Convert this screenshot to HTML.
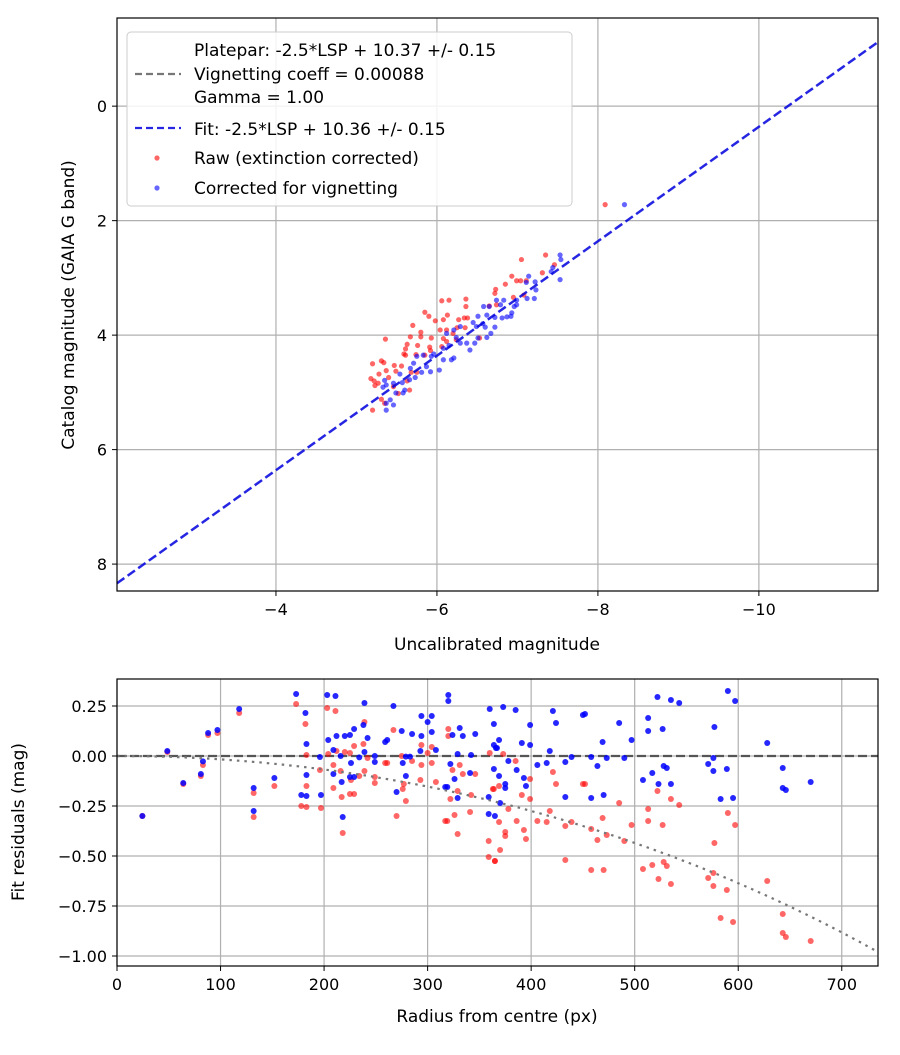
<!DOCTYPE html>
<html><head><meta charset="utf-8"><style>
body{margin:0;background:#fff;font-family:"Liberation Sans","DejaVu Sans",sans-serif;}
svg text{font-family:"DejaVu Sans","Liberation Sans",sans-serif;}
</style></head><body>
<svg id="chart" width="900" height="1050" xmlns="http://www.w3.org/2000/svg">
<rect width="900" height="1050" fill="#fff"/>
<g id="topPlot"></g>
<g id="botPlot"></g>
</svg>
<script>
// ---- top chart data ----
const rawX=[-8.09,-7.05,-7.35,-7.46,-7.31,-6.93,-6.99,-7.04,-7.11,-6.85,-6.73,-6.72,-6.95,-7.08,-6.65,-6.74,-6.06,-6.15,-6.36,-6.36,-5.85,-5.90,-5.70,-5.98,-6.08,-6.13,-6.27,-6.34,-6.38,-6.25,-6.35,-6.04,-6.12,-6.20,-5.36,-5.67,-5.80,-5.80,-5.93,-6.08,-6.12,-6.24,-6.53,-5.63,-5.61,-5.76,-5.91,-6.06,-5.59,-5.61,-5.74,-5.85,-5.92,-5.31,-5.34,-5.20,-5.47,-5.56,-5.49,-5.37,-5.28,-5.18,-5.22,-5.27,-5.23,-5.40,-5.68,-5.75,-5.63,-5.66,-5.31,-5.35,-5.20,-5.46,-5.52];
const rawY=[1.72,2.68,2.60,2.77,2.91,2.97,3.05,3.05,3.05,3.11,3.20,3.27,3.34,3.30,3.49,3.47,3.40,3.39,3.37,3.50,3.60,3.67,3.83,3.75,3.73,3.65,3.73,3.70,3.70,3.87,3.87,3.91,3.91,3.97,4.07,4.03,3.95,4.03,4.05,4.06,4.11,4.08,4.05,4.16,4.24,4.18,4.21,4.20,4.33,4.35,4.34,4.35,4.27,4.45,4.48,4.50,4.53,4.54,4.63,4.62,4.68,4.76,4.80,4.84,4.88,4.74,4.65,4.65,4.80,4.96,5.12,5.19,5.31,4.90,5.02];
const corX=[-8.33,-7.53,-7.54,-7.44,-7.42,-7.53,-7.14,-7.22,-7.11,-7.23,-7.12,-7.21,-6.99,-6.74,-6.83,-6.58,-6.65,-6.79,-6.96,-6.99,-6.51,-6.62,-6.72,-6.81,-6.87,-6.92,-6.93,-6.45,-6.49,-6.57,-6.60,-6.72,-6.67,-6.62,-6.51,-6.47,-6.37,-6.41,-6.29,-6.21,-6.12,-6.24,-6.29,-6.15,-6.08,-6.03,-6.21,-6.18,-6.08,-5.96,-5.93,-5.83,-5.75,-5.71,-5.67,-5.87,-5.92,-5.81,-5.73,-5.66,-5.54,-5.46,-5.37,-5.33,-5.35,-5.57,-5.49,-5.58,-5.42,-5.37,-5.46,-5.37,-5.60];
const corY=[1.72,2.60,2.68,2.82,2.89,3.03,2.97,3.07,3.08,3.21,3.36,3.36,3.39,3.39,3.39,3.50,3.50,3.47,3.50,3.47,3.67,3.65,3.69,3.70,3.68,3.67,3.61,3.78,3.85,3.80,3.86,3.86,3.97,4.04,4.05,4.14,4.14,4.26,3.85,3.91,3.97,4.04,4.14,4.18,4.23,4.61,4.40,4.43,4.43,4.33,4.37,4.35,4.37,4.49,4.58,4.55,4.64,4.65,4.74,4.78,4.68,4.84,4.87,4.91,4.79,4.83,5.01,5.01,5.13,5.19,5.22,5.31,4.96];
const fitZP=10.36;
const topXTicks=[-4,-6,-8,-10];
const topYTicks=[0,2,4,6,8];
// ---- bottom chart data ----
const corR=[24.5,48.6,64,81,83,88,97,118,132,132,152,173,182,183,183,178,183,197,196,203,211,204,212,209,216,209,217,218,220,225,229,238,239,242,239,234,226,225,229,249,249,259,261,267,275,276,279,270,279,283,285,294,294,293,300,304,304,308,320,320,324,322,326,317,319,329,329,331,334,342,341,346,359,359,360,364,364,366,364,365,373,385,369,367,391,399,399,421,424,418,450,452,485,469,497,513,513,522,535,543,527,590,597,577,628,378,386,369,393,375,375,395,406,415,433,439,458,464,473,490,433,458,470,370,508,517,523,528,531,535,571,576,576,589,583,595,643,643,646,670];
const corRes=[-0.30,0.025,-0.135,-0.09,-0.027,0.115,0.13,0.235,-0.16,-0.275,-0.11,0.31,0.215,0.06,-0.095,-0.195,-0.20,-0.195,-0.005,0.305,0.30,0.08,0.10,0.03,0.0,-0.09,-0.13,-0.305,0.10,0.105,0.135,0.155,0.265,0.09,0.02,-0.007,-0.035,-0.105,-0.105,0.0,-0.03,0.07,0.08,0.25,0.125,-0.035,-0.10,-0.18,-0.003,-0.003,0.11,0.20,0.10,0.025,0.17,0.20,0.12,0.03,0.305,0.275,0.105,-0.04,-0.115,-0.155,-0.155,-0.21,0.01,0.14,0.10,0.005,-0.085,0.11,-0.205,-0.29,0.235,0.16,0.055,0.04,-0.065,-0.30,0.245,0.23,0.08,0.04,0.065,0.155,0.055,0.225,0.165,0.025,0.205,0.21,0.165,0.07,0.08,0.19,0.125,0.295,0.28,0.265,0.135,0.325,0.275,0.145,0.065,-0.025,-0.07,-0.10,-0.11,-0.14,-0.16,-0.15,-0.045,-0.035,-0.03,-0.005,-0.005,-0.05,-0.01,-0.01,-0.205,-0.21,-0.195,-0.235,-0.12,-0.085,-0.14,-0.05,-0.06,-0.14,-0.04,-0.01,-0.075,-0.065,-0.215,-0.21,-0.06,-0.16,-0.17,-0.13];
const rawR=[24.5,48.6,64,81,83,88,97,118,132,132,152,173,182,183,183,178,183,197,196,203,211,204,212,209,216,209,217,218,220,225,229,238,239,242,239,234,226,225,229,249,249,259,261,267,275,276,279,270,277,285,294,294,293,300,304,304,308,320,320,324,322,326,317,319,329,329,331,334,342,341,346,359,359,360,364,365,373,385,369,363,391,399,399,378,369,386,393,395,375,375,370,365,421,424,406,415,418,433,439,433,450,452,458,464,469,473,458,470,485,490,497,513,513,522,527,535,543,508,517,523,528,531,535,571,576,576,577,589,590,597,583,595,628,643,643,646,670];
const rawRes=[-0.30,0.02,-0.14,-0.10,-0.045,0.105,0.115,0.215,-0.185,-0.305,-0.15,0.26,0.16,0.005,-0.15,-0.25,-0.255,-0.26,-0.07,0.24,0.225,0.01,0.025,-0.045,-0.075,-0.16,-0.205,-0.385,0.02,0.015,0.05,0.06,0.17,-0.01,-0.075,-0.10,-0.12,-0.19,-0.19,-0.105,-0.135,-0.035,-0.035,0.13,0.0,-0.165,-0.225,-0.30,-0.14,-0.025,0.055,-0.045,-0.12,0.015,0.045,-0.035,-0.13,0.135,0.10,-0.07,-0.215,-0.295,-0.325,-0.325,-0.39,-0.175,-0.045,-0.09,-0.195,-0.28,-0.09,-0.425,-0.505,0.015,-0.165,-0.525,0.01,-0.025,-0.15,-0.165,-0.195,-0.115,-0.215,-0.265,-0.33,-0.325,-0.37,-0.415,-0.38,-0.40,-0.47,-0.525,-0.08,-0.14,-0.325,-0.33,-0.275,-0.35,-0.33,-0.52,-0.14,-0.14,-0.365,-0.42,-0.31,-0.395,-0.57,-0.57,-0.235,-0.425,-0.345,-0.265,-0.325,-0.175,-0.345,-0.215,-0.245,-0.565,-0.545,-0.615,-0.53,-0.55,-0.64,-0.61,-0.585,-0.65,-0.435,-0.67,-0.285,-0.345,-0.81,-0.83,-0.625,-0.79,-0.885,-0.905,-0.925];
const vignCoeff=0.00088;
const botXTicks=[0,100,200,300,400,500,600,700];
const botYTicks=[0.25,0,-0.25,-0.5,-0.75,-1.0];
const botYLabels=["0.25","0.00","\u22120.25","\u22120.50","\u22120.75","\u22121.00"];

const NS="http://www.w3.org/2000/svg";
function mk(parent,tag,attrs){const e=document.createElementNS(NS,tag);for(const k in attrs)e.setAttribute(k,attrs[k]);parent.appendChild(e);return e;}
function fmtNeg(v){return v<0?"\u2212"+Math.abs(v):String(v);}

const T={x0:117,x1:878,y0:18,y1:591,xmin:-2.025,xmax:-11.48,ymin:-1.54,ymax:8.47};
const tx=v=>T.x0+(v-T.xmin)/(T.xmax-T.xmin)*(T.x1-T.x0);
const ty=v=>T.y0+(v-T.ymin)/(T.ymax-T.ymin)*(T.y1-T.y0);
const topG=document.getElementById('topPlot');
topXTicks.forEach(v=>{
 const l=mk(topG,'line',{x1:tx(v),x2:tx(v),y1:T.y0,y2:T.y1,stroke:'#b0b0b0','stroke-width':1.2});
 
 
 mk(topG,'line',{x1:tx(v),x2:tx(v),y1:T.y1,y2:T.y1+5,stroke:'#000','stroke-width':1});
 const t=mk(topG,'text',{x:tx(v),y:T.y1+24,'text-anchor':'middle','font-size':16});t.textContent=fmtNeg(v);
 
 
});
topYTicks.forEach(v=>{
 const l=mk(topG,'line',{x1:T.x0,x2:T.x1,y1:ty(v),y2:ty(v),stroke:'#b0b0b0','stroke-width':1.2});
 
 
 mk(topG,'line',{x1:T.x0-5,x2:T.x0,y1:ty(v),y2:ty(v),stroke:'#000','stroke-width':1});
 const t=mk(topG,'text',{x:T.x0-10,y:ty(v)+6,'text-anchor':'end','font-size':16});t.textContent=fmtNeg(v);
 
 
});
rawX.forEach((x,i)=>{const c=mk(topG,'circle',{cx:tx(x),cy:ty(rawY[i]),r:2.6,fill:'#ff0000','fill-opacity':0.6});
 
 });
corX.forEach((x,i)=>{const c=mk(topG,'circle',{cx:tx(x),cy:ty(corY[i]),r:2.6,fill:'#0000ff','fill-opacity':0.6});
 
 });
{const fl=mk(topG,'line',{x1:tx(T.xmin),y1:ty(T.xmin+fitZP),x2:tx(T.xmax),y2:ty(T.xmax+fitZP),stroke:'#0000dd','stroke-opacity':0.85,'stroke-width':2.5,'stroke-dasharray':'9,4'});
 
 }
mk(topG,'rect',{x:T.x0,y:T.y0,width:T.x1-T.x0,height:T.y1-T.y0,fill:'none',stroke:'#000','stroke-width':1.2});
{const t=mk(topG,'text',{x:497,y:650,'text-anchor':'middle','font-size':17});t.textContent='Uncalibrated magnitude';
 
 
 const t2=mk(topG,'text',{x:74,y:305,'text-anchor':'middle','font-size':17,transform:'rotate(-90 74 305)'});t2.textContent='Catalog magnitude (GAIA G band)';
 
 }
{const lg=mk(topG,'g',{});
 
 
 mk(lg,'rect',{x:127,y:32,width:445,height:174,rx:4,fill:'#fff','fill-opacity':0.85,stroke:'#ccc'});
 const rows=[['Platepar: -2.5*LSP + 10.37 +/- 0.15',56],['Vignetting coeff = 0.00088',80],['Gamma = 1.00',103],['Fit: -2.5*LSP + 10.36 +/- 0.15',135],['Raw (extinction corrected)',164],['Corrected for vignetting',194]];
 rows.forEach(r=>{const t=mk(lg,'text',{x:194,y:r[1],'font-size':17});t.textContent=r[0];
  
  });
 mk(lg,'line',{x1:135,x2:181,y1:74,y2:74,stroke:'#777','stroke-width':2.2,'stroke-dasharray':'7,4'});
 mk(lg,'line',{x1:135,x2:181,y1:128,y2:128,stroke:'#0000dd','stroke-opacity':0.85,'stroke-width':2.2,'stroke-dasharray':'7,4'});
 mk(lg,'circle',{cx:157,cy:158,r:2.6,fill:'#ff0000','fill-opacity':0.6});
 mk(lg,'circle',{cx:157,cy:188,r:2.6,fill:'#0000ff','fill-opacity':0.6});}

const B={x0:117,x1:878,y0:679,y1:966,xmin:0,xmax:735,ymin:0.385,ymax:-1.05};
const bx=v=>B.x0+(v-B.xmin)/(B.xmax-B.xmin)*(B.x1-B.x0);
const by=v=>B.y0+(v-B.ymin)/(B.ymax-B.ymin)*(B.y1-B.y0);
const botG=document.getElementById('botPlot');
botXTicks.forEach(v=>{
 const l=mk(botG,'line',{x1:bx(v),x2:bx(v),y1:B.y0,y2:B.y1,stroke:'#b0b0b0','stroke-width':1.2});
 
 
 mk(botG,'line',{x1:bx(v),x2:bx(v),y1:B.y1,y2:B.y1+5,stroke:'#000'});
 const t=mk(botG,'text',{x:bx(v),y:B.y1+24,'text-anchor':'middle','font-size':16});t.textContent=v;
 
 
});
botYTicks.forEach((v,i)=>{
 const l=mk(botG,'line',{x1:B.x0,x2:B.x1,y1:by(v),y2:by(v),stroke:'#b0b0b0','stroke-width':1.2});
 
 
 mk(botG,'line',{x1:B.x0-5,x2:B.x0,y1:by(v),y2:by(v),stroke:'#000'});
 const t=mk(botG,'text',{x:B.x0-10,y:by(v)+6,'text-anchor':'end','font-size':16});t.textContent=botYLabels[i];
 
 
});
{const z=mk(botG,'line',{x1:B.x0,x2:B.x1,y1:by(0),y2:by(0),stroke:'#555','stroke-width':2.2,'stroke-dasharray':'9,4'});
 
 }
rawR.forEach((r,i)=>{const c=mk(botG,'circle',{cx:bx(r),cy:by(rawRes[i]),r:3,fill:'#ff0000','fill-opacity':0.6});
 
 });
corR.forEach((r,i)=>{const c=mk(botG,'circle',{cx:bx(r),cy:by(corRes[i]),r:3,fill:'#0000ff','fill-opacity':0.85});
 
 });
{let d='';for(let r=0;r<=B.xmax;r+=5){const v=10*Math.log10(Math.cos(vignCoeff*r));d+=(r?'L':'M')+bx(r).toFixed(1)+','+by(v).toFixed(1);}
 const p=mk(botG,'path',{d:d,fill:'none',stroke:'#777','stroke-width':2.2,'stroke-dasharray':'2.5,5'});
 
 }
mk(botG,'rect',{x:B.x0,y:B.y0,width:B.x1-B.x0,height:B.y1-B.y0,fill:'none',stroke:'#000','stroke-width':1.2});
{const t=mk(botG,'text',{x:497,y:1022,'text-anchor':'middle','font-size':17});t.textContent='Radius from centre (px)';
 
 
 const t2=mk(botG,'text',{x:24,y:822,'text-anchor':'middle','font-size':17,transform:'rotate(-90 24 822)'});t2.textContent='Fit residuals (mag)';
 
 }
</script>
</body></html>
